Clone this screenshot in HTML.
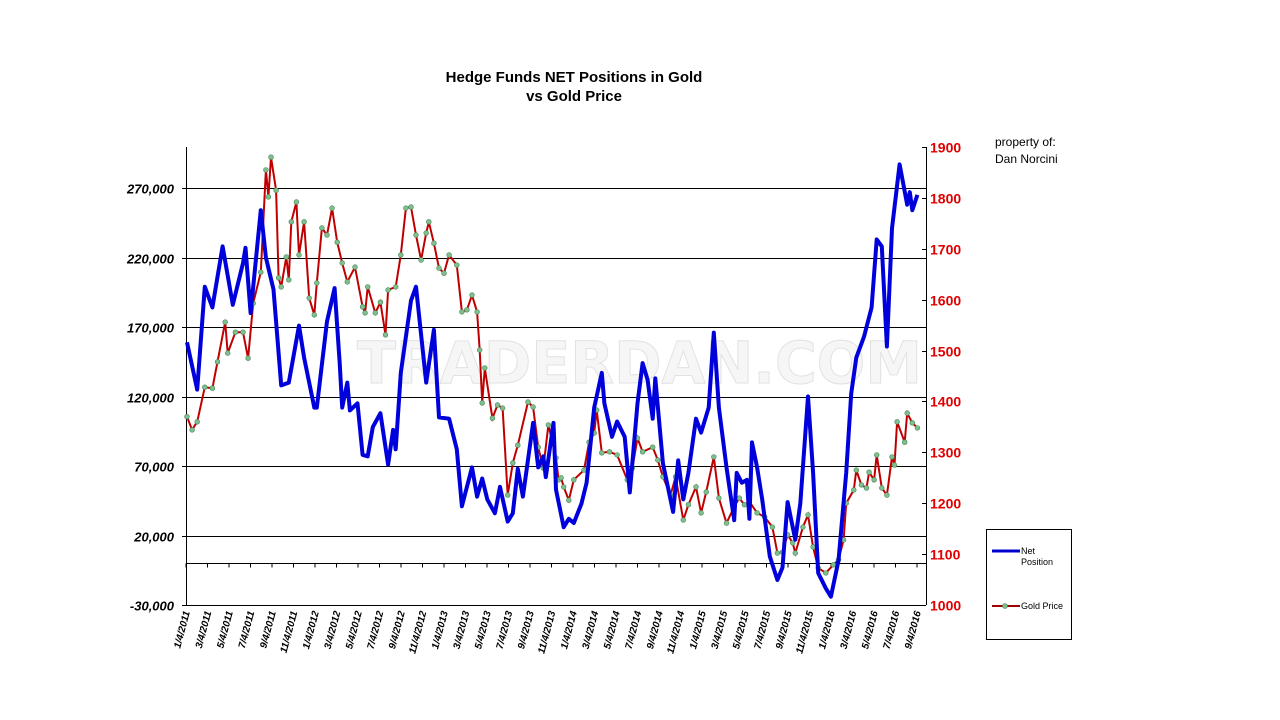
<!DOCTYPE html>
<html><head><meta charset="utf-8"><style>
html,body{margin:0;padding:0;background:#fff;}
svg{display:block;font-family:"Liberation Sans",Arial,sans-serif;}
</style></head><body>
<svg id="chart" width="1280" height="720" viewBox="0 0 1280 720" xmlns="http://www.w3.org/2000/svg">
<text x="357" y="383" font-family="DejaVu Sans,sans-serif" font-weight="bold" font-size="58" fill="#f6f6f6" stroke="#e2e2e2" stroke-width="1" textLength="565" lengthAdjust="spacingAndGlyphs">TRADERDAN.COM</text>
<text x="574" y="82" text-anchor="middle" font-weight="bold" font-size="15">Hedge Funds NET Positions in Gold</text>
<text x="574" y="101" text-anchor="middle" font-weight="bold" font-size="15">vs Gold Price</text>
<text x="995" y="146" font-size="12">property of:</text>
<text x="995" y="163" font-size="12">Dan Norcini</text>
<g id="grid"></g>
<g id="axes"></g>
<g id="series"></g>
<g>
<rect x="986.5" y="529.5" width="85" height="110" fill="#fff" stroke="#000" stroke-width="1"/>
<line x1="992" y1="551" x2="1020" y2="551" stroke="#0000cc" stroke-width="3"/>
<text x="1021" y="554" font-size="9">Net</text>
<text x="1021" y="565" font-size="9">Position</text>
<line x1="992" y1="606" x2="1020" y2="606" stroke="#a00000" stroke-width="2"/>
<circle cx="1005" cy="606" r="2.5" fill="#7fbf8f" stroke="#4a8a5a" stroke-width="0.6"/>
<text x="1021" y="609" font-size="9">Gold Price</text>
</g>
</svg>
<script>
const netWeeks=[0,4,7,10,14,18,22,23,25,29,31,34,37,40,44,46,50,51,55,58,60,61,63,64,67,69,71,73,76,79,81,82,84,88,90,94,97,99,103,106,108,112,114,116,118,121,123,126,128,130,132,136,138,140,141,144,145,148,150,152,155,157,160,163,164,167,169,172,174,177,179,181,183,184,187,191,193,195,197,200,202,205,207,209,212,215,216,218,220,221,222,224,226,229,232,234,236,239,241,244,246,248,251,253,256,259,261,263,266,269,271,273,275,277,280,283,284,285,287];
const netValues=[159,125,199,184,228,186,216,227,180,254,220,197,128,130,171,148,112,112,174,198,144,112,130,110,115,78,77,98,108,71,96,82,137,189,199,130,168,105,104,82,41,69,48,61,46,36,55,30,36,68,48,101,69,77,62,101,53,26,32,29,43,58,112,137,115,91,102,91,51,115,144,132,104,133,72,37,74,46,65,104,94,112,166,112,69,31,65,58,60,32,87,69,46,5,-12,-3,44,17,43,120,65,-7,-18,-24,2,65,122,148,163,184,233,228,156,241,287,258,267,254,265].map(v=>v*1000);
const goldWeeks=[0,2,4,7,10,12,15,16,19,22,24,26,29,31,32,33,35,36,37,39,40,41,43,44,46,48,50,51,53,55,57,59,61,63,66,69,70,71,74,76,78,79,82,84,86,88,90,92,94,95,97,99,101,103,106,108,110,112,114,115,116,117,120,122,124,126,128,130,134,136,138,140,142,145,146,147,148,150,152,156,158,160,161,163,166,169,173,175,177,179,183,185,187,190,192,195,197,200,202,204,207,209,212,215,217,219,221,224,227,230,232,234,236,238,239,242,244,246,248,251,254,256,258,259,262,263,265,267,268,270,271,273,275,277,278,279,282,283,285,287];
const goldValues=[1370,1344,1360,1428,1426,1478,1556,1495,1536,1536,1485,1593,1654,1855,1802,1880,1815,1643,1625,1684,1639,1753,1792,1688,1753,1603,1570,1633,1741,1727,1780,1713,1672,1635,1664,1586,1574,1625,1574,1595,1531,1619,1625,1688,1780,1782,1727,1678,1731,1753,1711,1662,1652,1688,1668,1576,1580,1609,1576,1501,1397,1466,1367,1393,1387,1216,1279,1314,1399,1389,1310,1269,1354,1289,1246,1250,1232,1206,1246,1265,1320,1338,1383,1299,1301,1295,1246,1269,1328,1301,1310,1285,1252,1216,1252,1167,1197,1232,1181,1222,1291,1210,1161,1193,1210,1197,1203,1181,1173,1153,1102,1104,1138,1122,1102,1153,1177,1114,1073,1063,1079,1089,1128,1200,1226,1265,1236,1230,1261,1246,1295,1230,1216,1291,1275,1360,1320,1377,1358,1348];
const leftTicks=[270000,220000,170000,120000,70000,20000,-30000];
const leftTickLabels=["270,000","220,000","170,000","120,000","70,000","20,000","-30,000"];
const rightTicks=[1900,1800,1700,1600,1500,1400,1300,1200,1100,1000];
const dateLabels=["1/4/2011","3/4/2011","5/4/2011","7/4/2011","9/4/2011","11/4/2011","1/4/2012","3/4/2012","5/4/2012","7/4/2012","9/4/2012","11/4/2012","1/4/2013","3/4/2013","5/4/2013","7/4/2013","9/4/2013","11/4/2013","1/4/2014","3/4/2014","5/4/2014","7/4/2014","9/4/2014","11/4/2014","1/4/2015","3/4/2015","5/4/2015","7/4/2015","9/4/2015","11/4/2015","1/4/2016","3/4/2016","5/4/2016","7/4/2016","9/4/2016"];

const X0=187,X1=926,TOP=147,BOT=605;
const xW=w=>X0+w*2.545;
const yL=v=>188+(270000-v)*69.5/50000;
const yR=p=>TOP+(1900-p)*(BOT-TOP)/900;
const NS="http://www.w3.org/2000/svg";
function mk(tag,parent,attrs){const e=document.createElementNS(NS,tag);for(const k in attrs)e.setAttribute(k,attrs[k]);parent.appendChild(e);return e;}
const grid=document.getElementById('grid'),axes=document.getElementById('axes'),series=document.getElementById('series');

leftTicks.forEach((t,i)=>{
  const y=Math.round(yL(t))+0.5;
  if(i<leftTicks.length-1){const g=mk('line',grid,{x1:186,x2:X1,y1:y,y2:y,stroke:'#000','stroke-width':1});
  
  }
  const tk=mk('line',axes,{x1:182,x2:186,y1:y,y2:y,stroke:'#000'});
  
  
  const tx=mk('text',axes,{x:174,y:y+5,'text-anchor':'end','font-size':13,'font-weight':'bold','font-style':'italic'});
  
  
  tx.textContent=leftTickLabels[i];
});
{const y=Math.round(yL(0))+0.5;
const z=mk('line',axes,{x1:186,x2:X1,y1:y,y2:y,stroke:'#000'});

}
const la=mk('line',axes,{x1:186.5,x2:186.5,y1:TOP,y2:BOT,stroke:'#000'});


const ba=mk('line',axes,{x1:186,x2:X1,y1:BOT+0.5,y2:BOT+0.5,stroke:'#000'});


const ra=mk('line',axes,{x1:X1+0.5,x2:X1+0.5,y1:TOP,y2:BOT,stroke:'#000'});


rightTicks.forEach(p=>{
  const y=Math.round(yR(p))+0.5;
  const tk=mk('line',axes,{x1:X1-4,x2:X1,y1:y,y2:y,stroke:'#000'});
  
  
  const tx=mk('text',axes,{x:930,y:y+5,'font-size':14,'font-weight':'bold',fill:'#e00000'});
  
  
  tx.textContent=p;
});
dateLabels.forEach((d,i)=>{
  const x=186+i*21.5;
  const zy=Math.round(yL(0))+0.5;
  const tk=mk('line',axes,{x1:x,x2:x,y1:zy,y2:zy+4,stroke:'#000'});
  
  
  const tx=mk('text',axes,{x:0,y:0,'text-anchor':'end','font-size':10,'font-weight':'bold','font-style':'italic',transform:`translate(${x+4},612) rotate(-75)`});
  
  
  tx.textContent=d;
});
const gp=mk('polyline',series,{points:goldWeeks.map((w,i)=>xW(w).toFixed(1)+','+yR(goldValues[i]).toFixed(1)).join(' '),fill:'none',stroke:'#c00000','stroke-width':2});


goldWeeks.forEach((w,i)=>{
  const c=mk('circle',series,{cx:xW(w).toFixed(1),cy:yR(goldValues[i]).toFixed(1),r:2.4,fill:'#7fbf8f',stroke:'#4a8a5a','stroke-width':0.6});
  
  
});
const np=mk('polyline',series,{points:netWeeks.map((w,i)=>xW(w).toFixed(1)+','+yL(netValues[i]).toFixed(1)).join(' '),fill:'none',stroke:'#0000dd','stroke-width':4,'stroke-linejoin':'round'});


</script>
</body></html>
